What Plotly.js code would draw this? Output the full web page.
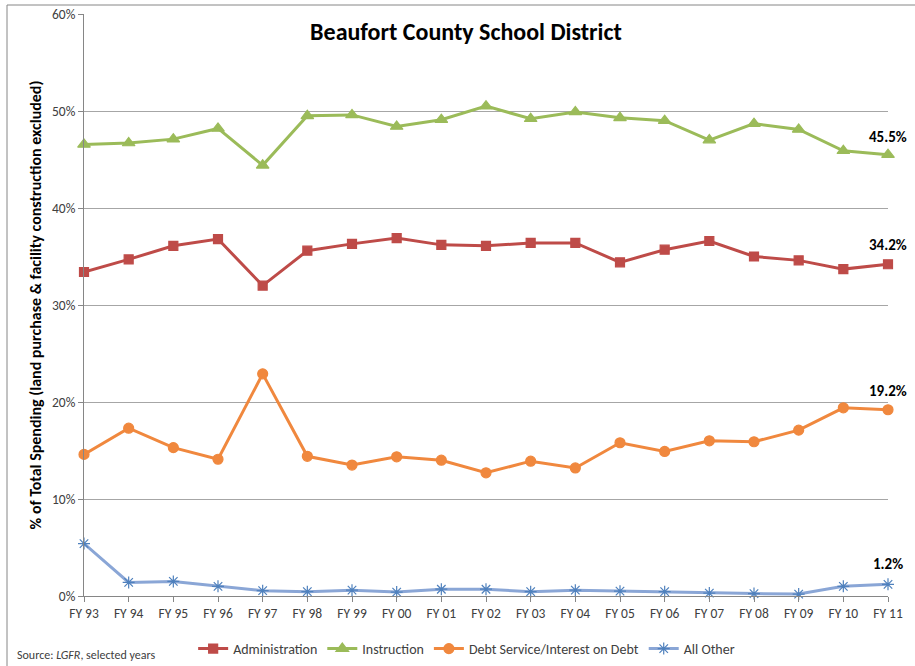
<!DOCTYPE html>
<html>
<head>
<meta charset="utf-8">
<script src="https://cdn.plot.ly/plotly-3.0.1.min.js"></script>
<style>html,body{margin:0;padding:0;background:#fff;}#chart{width:915px;height:666px;}</style>
</head>
<body>
<div id="chart"></div>
<script>
const years = ["FY 93","FY 94","FY 95","FY 96","FY 97","FY 98","FY 99","FY 00","FY 01","FY 02","FY 03","FY 04","FY 05","FY 06","FY 07","FY 08","FY 09","FY 10","FY 11"];
const administration = [33.4,34.7,36.1,36.8,32.0,35.6,36.3,36.9,36.2,36.1,36.4,36.4,34.4,35.7,36.6,35.0,34.6,33.7,34.2];
const instruction = [46.55,46.7,47.1,48.2,44.4,49.5,49.6,48.4,49.1,50.5,49.2,49.9,49.3,49.0,47.0,48.7,48.1,45.9,45.5];
const debtService = [14.6,17.3,15.3,14.1,22.9,14.4,13.5,14.35,14.0,12.7,13.9,13.2,15.8,14.9,16.0,15.9,17.1,19.4,19.2];
const allOther = [5.4,1.4,1.5,1.0,0.55,0.45,0.6,0.4,0.7,0.7,0.45,0.6,0.5,0.45,0.3,0.25,0.2,1.0,1.2];
const yTicks = [0,10,20,30,40,50,60];

const FONT = "Carlito, Calibri, Lato, 'Open Sans', sans-serif";
const series = [
  {name:"Administration", y:administration, color:"#BE4B48", symbol:"square", size:9, lineColor:"#BE4B48"},
  {name:"Instruction", y:instruction, color:"#9BBB59", symbol:"triangle-up", size:11, lineColor:"#9BBB59"},
  {name:"Debt Service/Interest on Debt", y:debtService, color:"#F0883E", symbol:"circle", size:10, lineColor:"#F0883E"},
  {name:"All Other", y:allOther, color:"#4F81BD", symbol:"asterisk-open", size:10, lineColor:"#8AA6D6"}
];

const traces = series.map(s => ({
  type:"scatter", mode:"lines+markers", name:s.name, x:years, y:s.y,
  line:{color:s.lineColor, width:3},
  marker:{symbol:s.symbol, size:s.size, color:s.color, line:{color:s.color, width:1.2}},
  cliponaxis:false
}));

const last = years.length - 1;
const labelShift = [19, 18, 19, 20];
const annotations = series.map((s, i) => ({
  x: years[last], y: s.y[last], xref:"x", yref:"y",
  text: "<b>" + s.y[last].toFixed(1) + "%</b>",
  showarrow:false, yshift: labelShift[i], xshift: 0,
  font:{family:FONT, size:15, color:"#000"}
}));
annotations.push({
  xref:"paper", yref:"paper", x:(15-84)/804, y:(596-655)/582, xanchor:"left", yanchor:"middle",
  text:"Source: <i>LGFR</i>, selected years", showarrow:false,
  font:{family:FONT, size:12, color:"#404040"}
});

const layout = {
  width:915, height:666,
  margin:{l:84, r:27, t:14, b:70},
  paper_bgcolor:"#fff", plot_bgcolor:"#fff",
  font:{family:FONT, color:"#404040"},
  title:{text:"<b>Beaufort County School District</b>", x:(466)/915, xanchor:"center", y:1-32/666, yanchor:"middle", yref:"container",
         font:{family:FONT, size:24, color:"#000"}},
  xaxis:{type:"category", range:[0,18], showgrid:false, showline:true, linecolor:"#868686", linewidth:1,
         ticks:"outside", ticklen:5, tickcolor:"#868686", tickfont:{family:FONT, size:13.5, color:"#404040"}, zeroline:false, fixedrange:true},
  yaxis:{range:[0,60], tickvals:yTicks, ticktext:yTicks.map(v=>v+"%"), showgrid:true, gridcolor:"#A6A6A6", gridwidth:1,
         showline:true, linecolor:"#868686", linewidth:1, ticks:"outside", ticklen:5, tickcolor:"#868686",
         tickfont:{family:FONT, size:13.5, color:"#404040"}, zeroline:false,
         title:{text:"<b>% of Total Spending (land purchase & facility construction excluded)</b>", standoff:6,
                font:{family:FONT, size:16, color:"#000"}}},
  legend:{orientation:"h", x:0.51, xanchor:"center", xref:"container", y:1-649/666, yanchor:"middle", yref:"container",
          font:{family:FONT, size:14, color:"#404040"}, itemwidth:30, traceorder:"normal", bgcolor:"rgba(0,0,0,0)"},
  annotations:annotations,
  shapes:[{type:"rect", xref:"paper", yref:"paper", x0:(7-84)/804, x1:(940-84)/804, y0:(596-700)/582, y1:(596-5)/582,
           line:{color:"#868686", width:1}, fillcolor:"rgba(0,0,0,0)", layer:"below"}],
  showlegend:true
};

Plotly.newPlot("chart", traces, layout, {displayModeBar:false, staticPlot:true});
</script>
</body>
</html>
